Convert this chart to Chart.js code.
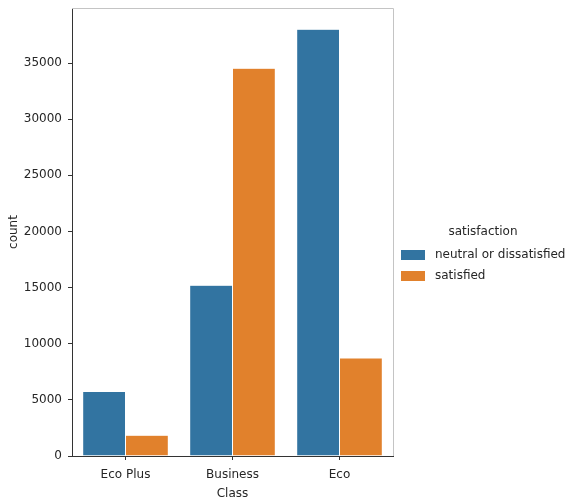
<!DOCTYPE html>
<html>
<head>
<meta charset="utf-8">
<script src="https://cdn.jsdelivr.net/npm/chart.js@4"></script>
<style>
    html, body { margin: 0; padding: 0; background: #fff; }
    #wrap { width: 569px; height: 501px; }
</style>
</head>
<body>
<div id="wrap"><canvas id="classChart"></canvas></div>
<script>
// data
const classes = ['Eco Plus', 'Business', 'Eco'];
const neutralCounts = [5740, 15200, 38000];
const satisfiedCounts = [1850, 34530, 8720];
const seriesNames = ['neutral or dissatisfied', 'satisfied'];
const yTicks = [0, 5000, 10000, 15000, 20000, 25000, 30000, 35000];

const BLUE = '#3274a1';
const ORANGE = '#e1812c';
const FONT = "'DejaVu Sans', sans-serif";

// grey frame on top / right + legend outside the axes
const framePlugin = {
    id: 'frameAndLegend',
    afterDraw(chart) {
        const ctx = chart.ctx;
        const a = chart.chartArea;
        ctx.save();
        ctx.strokeStyle = '#c4c4c4';
        ctx.lineWidth = 1;
        ctx.beginPath();
        ctx.moveTo(a.left, a.top + 0.5);
        ctx.lineTo(a.right + 0.5, a.top + 0.5);
        ctx.lineTo(a.right + 0.5, a.bottom);
        ctx.stroke();

        ctx.fillStyle = '#262626';
        ctx.font = '12px ' + FONT;
        ctx.textBaseline = 'middle';
        ctx.textAlign = 'center';
        ctx.fillText('satisfaction', 483, 232);
        ctx.textAlign = 'left';
        chart.data.datasets.forEach(function (ds, i) {
            const y = 250 + i * 21;
            ctx.fillStyle = ds.backgroundColor;
            ctx.fillRect(401, y, 24, 10);
            ctx.fillStyle = '#262626';
            ctx.fillText(ds.label, 435, y + 5);
        });
        ctx.restore();
    }
};

new Chart(document.getElementById('classChart'), {
    type: 'bar',
    data: {
        labels: classes,
        datasets: [{
            label: seriesNames[0],
            data: neutralCounts,
            backgroundColor: BLUE,
            borderColor: 'rgba(255,255,255,0.6)',
            borderWidth: 0.5
        }, {
            label: seriesNames[1],
            data: satisfiedCounts,
            backgroundColor: ORANGE,
            borderColor: 'rgba(255,255,255,0.6)',
            borderWidth: 0.5
        }]
    },
    options: {
        responsive: true,
        maintainAspectRatio: false,
        animation: false,
        layout: {
            padding: { left: 0, right: 176, top: 8, bottom: 0 }
        },
        datasets: {
            bar: { categoryPercentage: 0.8, barPercentage: 1.0 }
        },
        scales: {
            x: {
                afterFit: function (scale) {
                    scale.height = 45;
                    scale.paddingLeft = 0;
                    scale.paddingRight = 0;
                },
                grid: {
                    offset: false,
                    drawOnChartArea: false,
                    drawTicks: true,
                    tickLength: 4,
                    color: '#333'
                },
                border: { color: '#333', width: 1 },
                ticks: {
                    color: '#262626',
                    padding: 8,
                    font: { family: FONT, size: 12 }
                },
                title: {
                    display: true,
                    text: 'Class',
                    color: '#262626',
                    padding: { top: 0, bottom: 0 },
                    font: { family: FONT, size: 12 }
                }
            },
            y: {
                min: 0,
                max: 39900,
                afterFit: function (scale) {
                    scale.width = 72;
                    scale.paddingTop = 0;
                    scale.paddingBottom = 0;
                },
                afterBuildTicks: function (scale) {
                    scale.ticks = yTicks.map(function (v) { return { value: v }; });
                },
                grid: {
                    drawOnChartArea: false,
                    drawTicks: true,
                    tickLength: 4,
                    color: '#333'
                },
                border: { color: '#333', width: 1 },
                ticks: {
                    color: '#262626',
                    padding: 6,
                    font: { family: FONT, size: 12 },
                    callback: function (v) { return String(v); }
                },
                title: {
                    display: true,
                    text: 'count',
                    color: '#262626',
                    padding: { top: 7, bottom: 0 },
                    font: { family: FONT, size: 12 }
                }
            }
        },
        plugins: {
            legend: { display: false },
            tooltip: { enabled: false }
        }
    },
    plugins: [framePlugin]
});
</script>
</body>
</html>
